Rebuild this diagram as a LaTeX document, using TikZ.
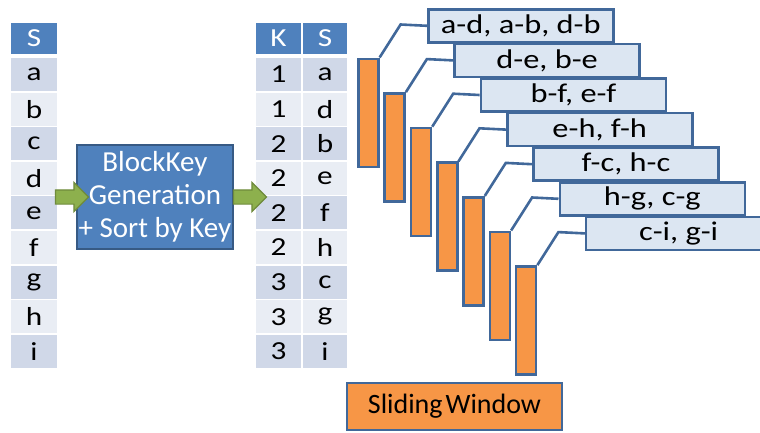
\documentclass[tikz,border=0pt]{standalone}
\usepackage{fontspec}
\setmainfont{Carlito}
\newfontfamily\widefont[FakeStretch=1.2]{Carlito}
\usetikzlibrary{shapes.arrows}
\definecolor{hdblue}{HTML}{4F81BD}
\definecolor{edgeblue}{HTML}{41689A}
\definecolor{rowdark}{HTML}{D0D8E8}
\definecolor{rowlight}{HTML}{E9EDF4}
\definecolor{pairfill}{HTML}{DCE6F2}
\definecolor{barorange}{HTML}{F79646}
\definecolor{arrowgreen}{HTML}{8DB04D}
\definecolor{arrowedge}{HTML}{6F8B3C}

\begin{document}
\begin{tikzpicture}[x=1pt, y=-1pt,
	cell/.style={inner sep=0pt, minimum height=33pt, font=\widefont\fontsize{26}{26}\selectfont},
	head/.style={cell, fill=hdblue, text=white, minimum height=31pt},
	pair/.style={draw=edgeblue, line width=2.6pt, fill=pairfill, anchor=north west,
		minimum width=185pt, minimum height=33pt, inner sep=0pt, font=\widefont\fontsize{27}{27}\selectfont},
	bar/.style={draw=edgeblue, line width=2.6pt, fill=barorange, anchor=north west,
		minimum width=20pt, minimum height=108pt, inner sep=0pt},
	link/.style={draw=edgeblue, line width=2.6pt},
	greenarrow/.style={single arrow, draw=arrowedge, fill=arrowgreen, line width=1.2pt,
		minimum height=33pt, inner xsep=0pt, inner ysep=6.5pt, single arrow head extend=7.5pt}]
	\useasboundingbox (0,0) rectangle (760,432);
	\clip (0,0) rectangle (760,432);

	\node[head, minimum width=46pt] (sH) at (34,38) {S};
	\foreach \s [count=\i] in {a,b,c,d,e,f,g,h,i} {
		\ifodd\i \def\shade{rowdark}\else\def\shade{rowlight}\fi
		\node[cell, fill=\shade, minimum width=46pt] (s\i) at (34,74.5+\i*34.6-34.6) {\s};
	}

	\node[head, minimum width=45pt] (kH) at (278.5,38) {K};
	\node[head, minimum width=44pt] (tH) at (325,38) {S};
	\foreach \k/\s [count=\i] in {1/a,1/d,2/b,2/e,2/f,2/h,3/c,3/g,3/i} {
		\ifodd\i \def\shade{rowdark}\else\def\shade{rowlight}\fi
		\node[cell, fill=\shade, minimum width=45pt] (k\i) at (278.5,74.5+\i*34.6-34.6) {\k};
		\node[cell, fill=\shade, minimum width=44pt] (t\i) at (325,74.5+\i*34.6-34.6) {\s};
	}

	\node[draw=hdblue!70!black, line width=2pt, fill=hdblue, text=white, align=center,
		minimum width=156pt, minimum height=104pt, inner sep=0pt,
		font=\fontsize{29}{33}\selectfont] (block) at (155,197) {BlockKey\\Generation\\+ Sort by Key};
	\node[greenarrow] (arrowL) at (68.5,197) {};
	\node[greenarrow] (arrowR) at (246.5,197) {};

	\foreach \p [count=\i from 0] in {{a-d, a-b, d-b},{d-e, b-e},{b-f, e-f},{e-h, f-h},{f-c, h-c},{h-g, c-g},{c-i, g-i}} {
		\node[pair] (pair\i) at (427+\i*26.3,8+\i*34.6) {\p};
		\node[bar] (bar\i) at (357+\i*26.3,57.5+\i*34.6) {};
		\draw[link] (bar\i.north east) -- ++(21,-33) -- (pair\i.west);
	}

	\node[draw=edgeblue, line width=2.6pt, fill=barorange, minimum width=215pt, minimum height=47pt,
		inner sep=0pt, font=\fontsize{28}{28}\selectfont] (window) at (454.5,406.5) {Sliding\hspace{3pt}Window};
\end{tikzpicture}
\end{document}
